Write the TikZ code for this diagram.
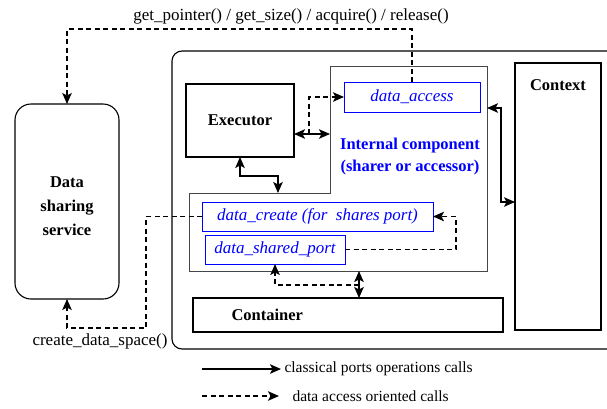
\documentclass[tikz,border=0pt]{standalone}
\usepackage{fontspec}
\setmainfont{Liberation Serif}
\usetikzlibrary{arrows.meta,positioning}
\definecolor{icgray}{RGB}{70,70,70}
\tikzset{
  plainbox/.style={draw, line width=1.1pt, inner sep=0pt, outer sep=0pt},
  bluebox/.style={draw=blue, line width=1pt, inner sep=0pt, outer sep=0pt, text=blue, font=\fontsize{17}{20}\selectfont\itshape},
  boldtxt/.style={font=\fontsize{16.5}{24}\selectfont\bfseries},
  calltxt/.style={font=\fontsize{17}{20}\selectfont},
  legendtxt/.style={font=\fontsize{15.5}{18}\selectfont, anchor=west},
  callarrow/.style={line width=1.3pt, -{Stealth[length=11pt,width=9.5pt,inset=2.5pt]}},
  bothcall/.style={line width=1.3pt, {Stealth[length=11pt,width=9.5pt,inset=2.5pt]}-{Stealth[length=11pt,width=9.5pt,inset=2.5pt]}},
  dataarrow/.style={line width=1.3pt, dash pattern=on 5pt off 3.5pt, -{Stealth[length=11pt,width=9.5pt,inset=2.5pt]}}
}
\begin{document}
\begin{tikzpicture}[x=1pt, y=-1pt]
    \useasboundingbox (0,0) rectangle (607,408);

    % data sharing service
    \node [plainbox, rounded corners=16pt, minimum width=104pt, minimum height=195pt] (dss) at (67,201.5) {};
    \node [boldtxt, align=center] (dsstxt) at (67,206) {Data\\sharing\\service};

    % component frame
    \draw [line width=1.1pt, rounded corners=10pt] (608,51) -| (172,349) -- (608,349);

    \node [plainbox, minimum width=108pt, minimum height=73pt, boldtxt] (exec) at (240,120.5) {Executor};
    \node [plainbox, minimum width=86pt, minimum height=267pt, label={[boldtxt, anchor=north, yshift=-13pt]north:Context}] (ctx) at (558,196.5) {};
    \node [plainbox, minimum width=310pt, minimum height=34pt, label={[boldtxt, anchor=west, xshift=35pt]west:Container}] (cont) at (348,315) {};

    % internal component
    \node [inner sep=0pt, outer sep=0pt, minimum width=157pt, minimum height=127pt] (icU) at (408.5,129.5) {};
    \node [inner sep=0pt, outer sep=0pt, minimum width=298pt, minimum height=78pt] (icL) at (338,232) {};
    \draw [icgray, line width=1pt] (icU.north west) -- (icU.north east) -- (icL.south east) -- (icL.south west) -- (icL.north west) -- (icU.south west) -- cycle;
    \node [boldtxt, text=blue, align=center, font=\fontsize{16.5}{22}\selectfont\bfseries] (ictxt) at (410,157) {Internal component\\(sharer or accessor)};

    \node [bluebox, minimum width=136pt, minimum height=30pt] (da) at (412,97) {data\_access};
    \node [bluebox, minimum width=231pt, minimum height=29pt] (dc) at (317.5,216.5) {data\_create (for~ shares port)};
    \node [bluebox, minimum width=140pt, minimum height=29pt] (dsp) at (275,249.5) {data\_shared\_port};

    % calls to the service
    \coordinate (k4) at (67,29);
    \draw [dataarrow] (da.north) |- (k4) -- (dss.north);
    \node [calltxt] (lbltop) at (291,16) {get\_pointer() / get\_size() / acquire() / release()};

    \coordinate (k3) at (146,328);
    \draw [dataarrow] (dc.west) -| (k3) -| (dss.south);
    \node [calltxt] (lblcreate) at (100,341) {create\_data\_space()};

    % executor links
    \coordinate (ex1) at ([yshift=-13.5pt]exec.east);
    \draw [bothcall] (ex1) -- (ex1 -| icU.west);
    \coordinate (br1) at (309,134);
    \draw [dataarrow] (br1) |- (da.west);
    \coordinate (j1) at (278,176);
    \draw [bothcall] (exec.south) |- (j1) -- (j1 |- icL.north);

    % context link
    \coordinate (c1) at (501,108);
    \coordinate (c2) at (501,202);
    \draw [bothcall] (c1 -| icU.east) -- (c1) -- (c2) -- (c2 -| ctx.west);

    % container link
    \coordinate (k1) at (359,285);
    \draw [bothcall] (k1 |- icL.south) -- (k1 |- cont.north);
    \draw [dataarrow] (k1) -| (dsp.south);

    \coordinate (k2) at (456,216.5);
    \draw [dataarrow] (dsp.east) -| (k2) -- (dc.east);

    % legend
    \coordinate (lg1) at (202,369);
    \node [legendtxt] (lgt1) at (281,369) {classical ports operations calls};
    \draw [callarrow] (lg1) -- (lgt1.west);
    \coordinate (lg2) at (202,396);
    \node [legendtxt] (lgt2) at (289,396) {data access oriented calls};
    \draw [dataarrow] (lg2) -- ([xshift=-10pt]lgt2.west);
\end{tikzpicture}
\end{document}
